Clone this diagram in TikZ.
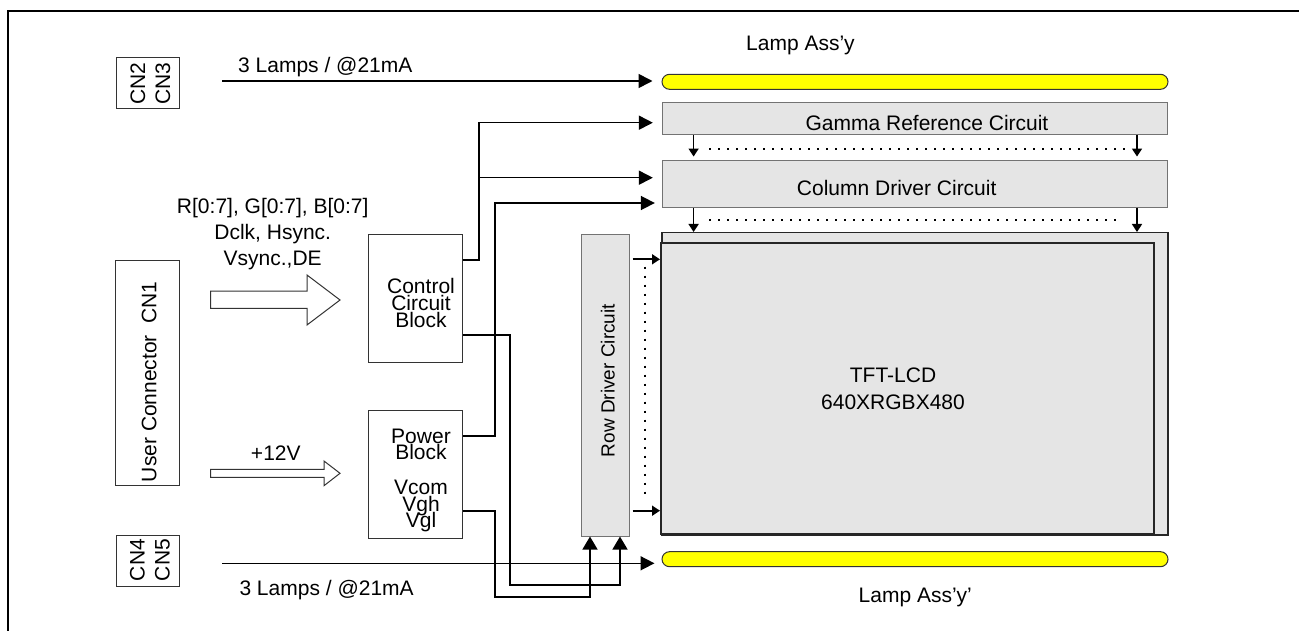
\documentclass[tikz,border=0pt]{standalone}
\usepackage{fontspec}
\setmainfont{Liberation Sans}
\usetikzlibrary{arrows.meta,shapes.misc,calc}
\setlength{\lineskiplimit}{-50pt}
\definecolor{boxgray}{RGB}{229,229,229}
\definecolor{lampyellow}{RGB}{255,255,0}
\tikzset{
  blk/.style={draw=black!80,line width=1pt,fill=white,inner sep=0pt},
  circ/.style={draw=black!55,line width=1pt,fill=boxgray,inner sep=0pt},
  lamp/.style={rounded rectangle,draw=black!80,line width=1pt,fill=lampyellow,minimum width=506pt,minimum height=15pt,inner sep=0pt},
  lbl/.style={inner sep=0pt,font=\fontsize{21}{25}\selectfont},
  wire/.style={line width=1.6pt},
  bigtip/.style={-{Triangle[length=14pt,width=14pt]}},
  uptip/.style={-{Triangle[length=13pt,width=15pt]}},
  smalltip/.style={-{Triangle[length=8pt,width=10pt]}},
  dots/.style={line width=2pt,dash pattern=on 2pt off 7pt},
  hollow/.style={draw=black!80,line width=1pt,fill=white},
}
\begin{document}
\begin{tikzpicture}[x=1pt,y=-1pt]
\useasboundingbox (0,0) rectangle (1299,631);
\draw[line width=2pt] (8,631) -- (8,11) -- (1299,11);

\node[blk,minimum width=63pt,minimum height=51pt] (cn23) at (147.5,83.5) {};
\node[lbl,rotate=90,align=center] (cn23t) at (150.5,83.7) {CN2\\CN3};
\node[blk,minimum width=63.6pt,minimum height=225.7pt] (cn1) at (147.5,373) {};
\node[lbl,rotate=90] (cn1t) at (149.2,381.7) {User Connector\ \ CN1};
\node[blk,minimum width=63pt,minimum height=51pt] (cn45) at (147.5,561) {};
\node[lbl,rotate=90,align=center] (cn45t) at (150,560) {CN4\\CN5};

\node[blk,minimum width=94.4pt,minimum height=128pt] (ctrl) at (415.5,298.3) {};
\node[lbl,align=center,font=\fontsize{21}{16.7}\selectfont] (ctrlt) at (421,303) {Control\\Circuit\\Block};
\node[blk,minimum width=94.4pt,minimum height=127.6pt] (pwr) at (415.5,474.5) {};
\node[lbl,align=center,font=\fontsize{21}{16.7}\selectfont] (pwrt) at (421,480.6) {Power\\Block\\[17.9pt]Vcom\\Vgh\\Vgl};

\node[circ,minimum width=47.6pt,minimum height=301.7pt] (row) at (605.5,385.2) {};
\node[lbl,rotate=90,font=\fontsize{19}{23}\selectfont] (rowt) at (607.8,380.5) {Row Driver Circuit};

\node[circ,minimum width=505.3pt,minimum height=31.8pt] (gam) at (915,118.6) {};
\node[lbl,anchor=base] (gamt) at (927,130.4) {Gamma Reference Circuit};
\node[circ,minimum width=505.3pt,minimum height=47.3pt] (col) at (915,183.7) {};
\node[lbl,anchor=base] (colt) at (896.7,195.4) {Column Driver Circuit};

\node[circ,draw=black!85,line width=1.5pt,minimum width=506pt,minimum height=302.3pt] (tft) at (915,383.9) {};
\node[circ,draw=black!85,line width=2pt,minimum width=493pt,minimum height=291pt] (tftin) at (907.5,388.5) {};
\node[lbl,align=center,font=\fontsize{21}{26.7}\selectfont] (tftt) at (893,389) {TFT-LCD\\640XRGBX480};

\node[lamp] (lampT) at (915,81.8) {};
\node[lamp] (lampB) at (915,559.2) {};
\node[lbl,anchor=base west] (assyT) at (746,50.7) {Lamp Ass’y};
\node[lbl,anchor=base west] (assyB) at (858.5,602.5) {Lamp Ass’y’};
\node[lbl,anchor=base west] (lampsT) at (238,72.7) {3 Lamps / @21mA};
\node[lbl,anchor=base west] (lampsB) at (239.3,595) {3 Lamps / @21mA};

\node[lbl,align=center,font=\fontsize{21}{26.2}\selectfont] (sigt) at (272.7,234) {R[0:7], G[0:7], B[0:7]\\Dclk, Hsync.\\Vsync.,DE};
\node[lbl,anchor=base] (v12t) at (275.8,460) {+12V};

\draw[hollow] (210.7,291) -- (307,291) -- (307,275) -- (340,300) -- (307,325) -- (307,308.3) -- (210.7,308.3) -- cycle;
\draw[hollow] (210.7,469.3) -- (324,469.3) -- (324,461) -- (340,473.3) -- (324,485.7) -- (324,477.3) -- (210.7,477.3) -- cycle;

\coordinate (inT) at (222,81);
\coordinate (inB) at (222,563.3);
\draw[wire,bigtip,shorten >=9pt] (inT) -- (lampT.west |- inT);
\draw[wire,bigtip,shorten >=7pt] (inB) -- (lampB.west |- inB);

\draw[wire,bigtip,shorten >=9pt] (ctrl.east |- 0,260) -- (479,260) -- (479,122.7) -- (gam.west |- 0,122.7);
\draw[wire,bigtip,shorten >=9pt] (479,177.7) -- (col.west |- 0,177.7);
\draw[wire,bigtip,shorten >=7pt] (pwr.east |- 0,435.7) -- (495,435.7) -- (495,203) -- (col.west |- 0,203);
\draw[wire,uptip] (ctrl.east |- 0,335) -- (510,335) -- (510,585) -- (620,585) -- (row.south -| 620,0);
\draw[wire,uptip] (pwr.east |- 0,510.7) -- (495,510.7) -- (495,596.7) -- (590,596.7) -- (row.south -| 590,0);

\foreach \x in {693.6,1137}{
  \draw[wire,smalltip,shorten >=3pt] (gam.south -| \x,0) -- (col.north -| \x,0);
  \draw[wire,smalltip] (col.south -| \x,0) -- (tft.north -| \x,0);
}
\foreach \y in {259.3,510.7}{
  \draw[wire,smalltip,shorten <=2.7pt] (row.east |- 0,\y) -- (tftin.west |- 0,\y);
}
\draw[dots] (709,149.5) -- (1126,149.5);
\draw[dots] (709,220.5) -- (1122,220.5);
\draw[dots] (645,266.7) -- (645,497);

\end{tikzpicture}
\end{document}
